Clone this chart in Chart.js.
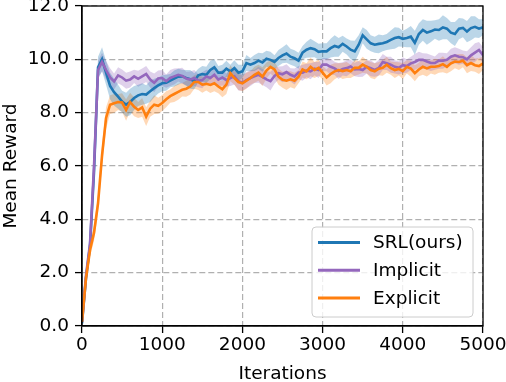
<!DOCTYPE html>
<html>
<head>
<meta charset="utf-8">
<script src="https://cdn.jsdelivr.net/npm/chart.js@4.4.0/dist/chart.umd.min.js"></script>
<style>
html, body { margin: 0; padding: 0; background: #fff; }
</style>
</head>
<body>
<canvas id="chart" width="506" height="382"></canvas>
<script>
// iterations, one reading every 50 steps
var iterations = Array.from({length: 101}, (_, i) => i * 50);

var seriesNames = ["SRL(ours)", "Implicit", "Explicit"];
var seriesColors = ["#1f77b4", "#9467bd", "#ff7f0e"];
var bandColors = ["rgba(31,119,180,0.3)", "rgba(148,103,189,0.3)", "rgba(255,127,14,0.3)"];

var srlMean = [0.1,1.8,3.0,5.8,9.7,10.0,9.5,9.0,8.77,8.6,8.42,8.3,8.4,8.55,8.65,8.7,8.68,8.8,8.92,9.02,9.1,
  9.12,9.2,9.28,9.35,9.36,9.3,9.25,9.18,9.4,9.45,9.42,9.6,9.7,9.5,9.5,9.65,9.55,9.67,9.5,9.55,
  9.86,9.8,9.86,9.95,9.88,10.02,9.98,9.9,10.05,10.15,10.22,10.1,10.04,9.95,10.25,10.36,10.42,10.38,10.28,10.3,
  10.3,10.42,10.5,10.45,10.58,10.48,10.36,10.3,10.55,10.9,10.75,10.6,10.55,10.58,10.6,10.65,10.73,10.8,10.83,10.77,
  10.8,10.85,10.62,10.95,11.1,11.0,11.05,11.12,11.1,11.2,11.15,11.0,10.95,11.15,11.18,11.04,11.17,11.22,11.15,11.2];
var srlSpread = [0.05,0.15,0.25,0.35,0.4,0.45,
  0.45,0.5,0.5,0.45,0.4,0.45,0.5,0.45,0.4,0.4,0.35,0.4,0.35,0.3,0.3,
  0.3,0.25,0.3,0.3,0.25,0.3,0.35,0.3,0.25,0.3,0.3,0.35,0.3,0.25,0.3,0.3,0.25,0.3,0.3,0.25,
  0.3,0.25,0.3,0.3,0.35,0.3,0.3,0.25,0.3,0.3,0.35,0.3,0.3,0.3,0.25,0.3,0.35,0.3,0.3,0.3,
  0.3,0.35,0.4,0.35,0.3,0.3,0.35,0.4,0.35,0.3,0.35,0.3,0.3,0.35,0.3,0.3,0.35,0.4,0.35,0.3,
  0.35,0.4,0.45,0.4,0.4,0.45,0.4,0.35,0.4,0.45,0.4,0.4,0.45,0.4,0.35,0.4,0.45,0.4,0.35,0.3];

var implicitMean = [0.15,1.9,3.1,6.0,9.6,9.9,9.6,9.32,9.17,9.4,9.32,9.2,9.24,9.36,9.27,9.36,9.45,9.24,9.12,9.28,9.3,
  9.18,9.3,9.36,9.42,9.38,9.28,9.24,9.3,9.2,9.22,9.36,9.3,9.42,9.24,9.32,9.22,9.3,9.36,9.18,9.12,
  9.22,9.3,9.36,9.42,9.34,9.25,9.18,9.38,9.48,9.44,9.52,9.42,9.36,9.5,9.5,9.58,9.55,9.65,9.6,9.8,
  9.8,9.72,9.66,9.56,9.64,9.67,9.73,9.62,9.64,9.6,9.72,9.67,9.6,9.68,9.9,9.85,9.8,9.72,9.68,9.78,
  9.75,9.85,9.9,9.98,9.98,9.92,9.86,9.86,9.95,9.95,9.98,10.1,10.15,10.1,10.08,10.0,10.15,10.25,10.35,10.15];
var implicitSpread = [0.05,0.15,0.25,0.3,0.35,0.35,
  0.35,0.35,0.3,0.3,0.3,0.3,0.3,0.25,0.3,0.3,0.3,0.3,0.35,0.3,0.3,
  0.25,0.3,0.3,0.25,0.3,0.25,0.3,0.3,0.25,0.3,0.25,0.3,0.3,0.25,0.3,0.25,0.3,0.3,0.35,0.3,
  0.3,0.3,0.25,0.3,0.3,0.3,0.35,0.3,0.25,0.3,0.3,0.25,0.3,0.25,0.3,0.25,0.3,0.25,0.3,0.25,
  0.25,0.3,0.25,0.3,0.25,0.3,0.25,0.25,0.3,0.25,0.25,0.3,0.25,0.3,0.3,0.25,0.3,0.25,0.25,0.3,
  0.25,0.25,0.3,0.3,0.25,0.3,0.3,0.25,0.3,0.3,0.25,0.3,0.3,0.3,0.25,0.3,0.3,0.35,0.3,0.3];

var explicitMean = [0.15,1.8,2.85,3.5,4.6,6.4,7.8,8.3,8.35,8.4,8.38,8.1,8.4,8.22,8.1,8.2,7.85,8.15,8.3,8.26,8.36,
  8.5,8.62,8.7,8.78,8.86,8.9,8.98,9.15,9.15,9.05,9.08,9.04,9.1,8.98,8.88,9.05,9.48,9.3,9.15,9.1,
  9.2,9.3,9.42,9.5,9.35,9.58,9.72,9.62,9.35,9.23,9.2,9.25,9.2,9.35,9.62,9.55,9.72,9.6,9.68,9.5,
  9.32,9.45,9.55,9.6,9.56,9.6,9.55,9.68,9.68,9.8,9.72,9.6,9.55,9.65,9.68,9.8,9.67,9.6,9.64,9.56,
  9.72,9.65,9.48,9.62,9.72,9.66,9.72,9.72,9.75,9.82,9.72,9.85,9.92,9.9,9.95,9.78,9.86,9.78,9.75,9.85];
var explicitSpread = [0.05,0.15,0.25,0.3,0.35,0.4,
  0.4,0.35,0.35,0.3,0.35,0.4,0.35,0.35,0.3,0.35,0.35,0.3,0.35,0.3,0.3,
  0.3,0.25,0.3,0.3,0.25,0.3,0.3,0.25,0.3,0.3,0.25,0.3,0.3,0.25,0.3,0.35,0.3,0.25,0.3,0.3,
  0.3,0.25,0.3,0.3,0.35,0.3,0.25,0.3,0.3,0.3,0.35,0.3,0.3,0.25,0.3,0.3,0.35,0.3,0.3,0.25,
  0.3,0.35,0.3,0.25,0.3,0.3,0.25,0.3,0.25,0.3,0.25,0.3,0.3,0.25,0.3,0.3,0.25,0.3,0.25,0.3,
  0.25,0.3,0.3,0.25,0.3,0.3,0.25,0.3,0.25,0.3,0.25,0.3,0.25,0.3,0.25,0.3,0.3,0.25,0.3,0.25];

var xTicks = [0, 1000, 2000, 3000, 4000, 5000];
var yTicks = [0, 2, 4, 6, 8, 10, 12];

var means = [srlMean, implicitMean, explicitMean];
var spreads = [srlSpread, implicitSpread, explicitSpread];

var FONT = "DejaVu Sans";
var FS = 18.5;

function pts(vals) {
  return vals.map((v, i) => ({x: iterations[i], y: v}));
}

var datasets = [];
for (let s = 0; s < 3; s++) {
  let lo = means[s].map((m, i) => m - spreads[s][i]);
  let hi = means[s].map((m, i) => m + spreads[s][i]);
  datasets.push({ data: pts(lo), borderWidth: 0, pointRadius: 0, fill: false, order: 10 + s });
  datasets.push({ data: pts(hi), borderWidth: 0, pointRadius: 0, fill: '-1', backgroundColor: bandColors[s], order: 10 + s });
  datasets.push({ label: seriesNames[s], data: pts(means[s]), borderColor: seriesColors[s], borderWidth: 2.6,
    pointRadius: 0, fill: false, tension: 0, order: 5 - s });
}

var boxPlugin = {
  id: 'box',
  afterDatasetsDraw(chart) {
    var a = chart.chartArea, ctx = chart.ctx;
    ctx.save();
    ctx.strokeStyle = '#000';
    ctx.lineWidth = 1.3;
    ctx.strokeRect(a.left, a.top, a.right - a.left, a.bottom - a.top);
    ctx.restore();
  },
  afterDraw(chart) {
    var ctx = chart.ctx;
    var x0 = 312, y0 = 227, w = 161, h = 90, r = 4;
    ctx.save();
    ctx.beginPath();
    ctx.moveTo(x0 + r, y0);
    ctx.arcTo(x0 + w, y0, x0 + w, y0 + h, r);
    ctx.arcTo(x0 + w, y0 + h, x0, y0 + h, r);
    ctx.arcTo(x0, y0 + h, x0, y0, r);
    ctx.arcTo(x0, y0, x0 + w, y0, r);
    ctx.closePath();
    ctx.fillStyle = 'rgba(255,255,255,0.8)';
    ctx.fill();
    ctx.strokeStyle = '#cccccc';
    ctx.lineWidth = 1;
    ctx.stroke();
    ctx.font = FS + 'px "' + FONT + '"';
    ctx.textBaseline = 'middle';
    ctx.fillStyle = '#000';
    for (let s = 0; s < 3; s++) {
      let y = 242.5 + s * 27.8;
      ctx.strokeStyle = seriesColors[s];
      ctx.lineWidth = 3;
      ctx.beginPath();
      ctx.moveTo(318, y);
      ctx.lineTo(360, y);
      ctx.stroke();
      ctx.fillText(seriesNames[s], 373, y + 1);
    }
    ctx.restore();
  }
};

new Chart(document.getElementById("chart"), {
  type: 'line',
  data: { datasets: datasets },
  options: {
    responsive: false,
    animation: false,
    devicePixelRatio: 1,
    layout: { padding: { top: 6, right: 23, left: 0, bottom: 0 } },
    plugins: { legend: { display: false }, tooltip: { enabled: false } },
    scales: {
      x: {
        type: 'linear', min: 0, max: 5000,
        afterBuildTicks: (sc) => { sc.ticks = xTicks.map(v => ({value: v})); },
        afterFit: (sc) => { sc.height = 56; sc.paddingLeft = 0; sc.paddingRight = 0; },
        ticks: { color: '#000', font: { family: FONT, size: FS }, padding: 1, maxRotation: 0,
          callback: (v) => String(v) },
        grid: { color: '#b0b0b0', lineWidth: 1.2, tickColor: '#000', tickLength: 7, tickWidth: 1.3 },
        border: { color: '#000', width: 1.3, dash: [6, 3] },
        title: { display: true, text: 'Iterations', color: '#000', font: { family: FONT, size: FS },
          padding: { top: 0, bottom: -3 } }
      },
      y: {
        min: 0, max: 12,
        afterBuildTicks: (sc) => { sc.ticks = yTicks.map(v => ({value: v})); },
        afterFit: (sc) => { sc.width = 82; sc.paddingTop = 0; sc.paddingBottom = 0; },
        ticks: { color: '#000', font: { family: FONT, size: FS }, padding: 6,
          callback: (v) => v.toFixed(1) },
        grid: { color: '#b0b0b0', lineWidth: 1.2, tickColor: '#000', tickLength: 7, tickWidth: 1.3 },
        border: { color: '#000', width: 1.3, dash: [6, 3] },
        title: { display: true, text: 'Mean Reward', color: '#000', font: { family: FONT, size: FS }, padding: 0 }
      }
    }
  },
  plugins: [boxPlugin]
});
</script>
</body>
</html>
